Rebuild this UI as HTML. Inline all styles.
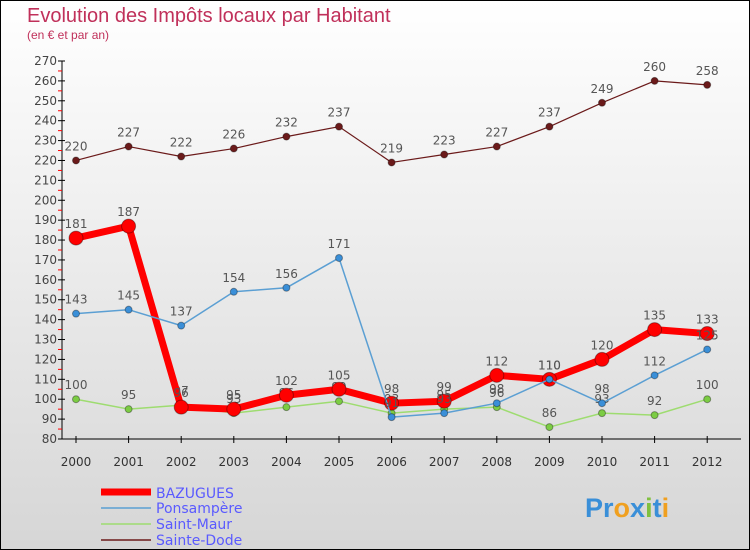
<!DOCTYPE html>
<html><head><meta charset="utf-8"><style>
body{margin:0}
#c{width:748px;height:548px;border:1px solid #000;background:linear-gradient(#ffffff,#d6d6d6);position:relative;font-family:"DejaVu Sans","Liberation Sans",sans-serif;overflow:hidden}
</style></head><body>
<div id="c">
<svg id="s" width="748" height="548">
<text x="26" y="21" font-size="20" fill="#c0305a" font-family="Liberation Sans,sans-serif">Evolution des Impôts locaux par Habitant</text>
<text x="26" y="38" font-size="12" fill="#c0305a" font-family="Liberation Sans,sans-serif">(en € et par an)</text>
<g id="axes"></g><g id="series"></g>
<g font-size="14">
<line x1="100" y1="491" x2="150" y2="491" stroke="#f00" stroke-width="7"/>
<text x="155" y="497" fill="#5a5aff">BAZUGUES</text>
<line x1="100" y1="507" x2="150" y2="507" stroke="#5b9fd3" stroke-width="1.5"/>
<text x="155" y="512" fill="#5a5aff">Ponsampère</text>
<line x1="100" y1="523" x2="150" y2="523" stroke="#9edc70" stroke-width="1.5"/>
<text x="155" y="528" fill="#5a5aff">Saint-Maur</text>
<line x1="100" y1="539" x2="150" y2="539" stroke="#6b1a1a" stroke-width="1.5"/>
<text x="155" y="544" fill="#5a5aff">Sainte-Dode</text>
</g>
<g font-size="27" font-weight="bold" font-family="Liberation Sans,sans-serif">
<text x="584" y="516"><tspan fill="#3a8fd8">Pr</tspan><tspan fill="#f0a020">o</tspan><tspan fill="#3a8fd8">x</tspan><tspan fill="#80c040">i</tspan><tspan fill="#3a8fd8">t</tspan><tspan fill="#f0a020">i</tspan></text>
</g>
</svg></div>
<script>
const years=["2000","2001","2002","2003","2004","2005","2006","2007","2008","2009","2010","2011","2012"];
const bazugues=[181,187,96,95,102,105,98,99,112,110,120,135,133];
const ponsampere=[143,145,137,154,156,171,91,93,98,110,98,112,125];
const saintMaur=[100,95,97,93,96,99,93,95,96,86,93,92,100];
const sainteDode=[220,227,222,226,232,237,219,223,227,237,249,260,258];
const yTicks=[80,90,100,110,120,130,140,150,160,170,180,190,200,210,220,230,240,250,260,270];
const NS="http://www.w3.org/2000/svg";
const x=i=>75+i*52.6;
const y=v=>438-(v-80)*(378/190);
function mk(t,a,p){const e=document.createElementNS(NS,t);for(const k in a)e.setAttribute(k,a[k]);p.appendChild(e);return e;}
const ax=document.getElementById('axes'),sr=document.getElementById('series');
let l=mk('line',{x1:61,y1:y(270),x2:61,y2:438,stroke:'#000'},ax);


l=mk('line',{x1:61,y1:438,x2:740,y2:438,stroke:'#000'},ax);


yTicks.forEach((v,i)=>{
 mk('line',{x1:57,x2:64,y1:y(v),y2:y(v),stroke:'#000'},ax);
 if(i<yTicks.length-1)mk('line',{x1:57,x2:61,y1:y(v+5),y2:y(v+5),stroke:'#f00'},ax);
 const t=mk('text',{x:56,y:y(v)+4,'font-size':12,fill:'#444','text-anchor':'end'},ax);t.textContent=v;
 
 
});
years.forEach((yr,i)=>{
 mk('line',{x1:x(i),x2:x(i),y1:435,y2:442,stroke:'#000'},ax);
 const t=mk('text',{x:x(i),y:465,'font-size':12,fill:'#333','text-anchor':'middle'},ax);t.textContent=yr;
 
 
});
function series(d,col,w,r,ptc,name){
 const g=mk('g',{},sr);
 
 
 mk('polyline',{points:d.map((v,i)=>x(i)+','+y(v)).join(' '),fill:'none',stroke:col,'stroke-width':w,'stroke-linejoin':'round'},g);
 d.forEach((v,i)=>{
  const c=mk('circle',{cx:x(i),cy:y(v),r:r,fill:ptc,stroke:'rgba(0,0,0,0.35)','stroke-width':1},g);
  
  
  const t=mk('text',{x:x(i),y:y(v)-10,'font-size':12,fill:'#555','text-anchor':'middle'},g);t.textContent=v;
 });
}
series(sainteDode,'#6b1a1a',1.2,3.5,'#6b1a1a','sainte-dode');
series(saintMaur,'#9edc70',1.5,3.5,'#7ccc44','saint-maur');
series(bazugues,'#f00',7,7,'#f00','bazugues');
series(ponsampere,'#5b9fd3',1.5,3.5,'#3a8fd8','ponsampere');
</script>
</body></html>
